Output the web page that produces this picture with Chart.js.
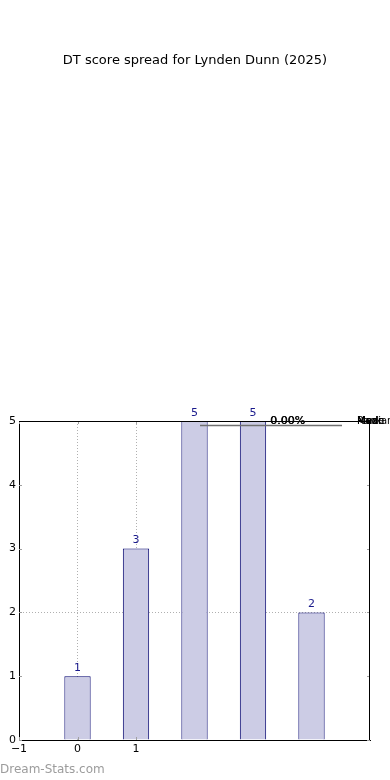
<!DOCTYPE html>
<html>
<head>
<meta charset="utf-8">
<title>DT score spread</title>
<script src="https://cdn.jsdelivr.net/npm/chart.js@4/dist/chart.umd.min.js"></script>
<style>
  html, body { margin: 0; padding: 0; background: #fff; }
  #wrap { position: relative; width: 390px; height: 780px; }
  #watermark {
    position: absolute; left: 0; top: 762px;
    font: 12px "DejaVu Sans", sans-serif; color: #9c9c9c;
  }
</style>
</head>
<body>
<div id="wrap">
  <canvas id="chart" width="390" height="780"></canvas>
  <div id="watermark">Dream-Stats.com</div>
</div>
<script>
// DATA
// -----------------------------------------------------------------------------
var scores = [0, 1, 2, 3, 4];
var counts = [1, 3, 5, 5, 2];
var xTickLabels = [-1, 0, 1];
var yTickLabels = [0, 1, 2, 3, 4, 5];
var titleText = 'DT score spread for Lynden Dunn (2025)';

// PLUGINS
// -----------------------------------------------------------------------------
var barLabels = {
    id: 'barLabels',
    afterDatasetsDraw: function(chart) {
        var ctx = chart.ctx;
        var meta = chart.getDatasetMeta(0);
        ctx.save();
        ctx.fillStyle = '#1a1a8c';
        ctx.font = '11px "DejaVu Sans"';
        ctx.textAlign = 'center';
        ctx.textBaseline = 'alphabetic';
        meta.data.forEach(function(bar, i) {
            ctx.fillText(String(counts[i]), bar.x, bar.y - 5.5);
        });
        ctx.restore();
    }
};

// title centred on the whole canvas, box, inner ticks and the broken legend
var frame = {
    id: 'frame',
    afterDraw: function(chart) {
        var ctx = chart.ctx;
        var a = chart.chartArea;
        var xs = chart.scales.x, ys = chart.scales.y;
        ctx.save();

        ctx.fillStyle = '#000';
        ctx.font = '13px "DejaVu Sans"';
        ctx.textAlign = 'center';
        ctx.textBaseline = 'middle';
        ctx.fillText(titleText, chart.width / 2, 61);

        // inner tick marks
        ctx.strokeStyle = '#a0a0a0';
        ctx.lineWidth = 1;
        yTickLabels.forEach(function(v) {
            var py = Math.round(ys.getPixelForValue(v)) + 0.5;
            ctx.beginPath();
            ctx.moveTo(a.left, py); ctx.lineTo(a.left + 3, py);
            ctx.moveTo(a.right, py); ctx.lineTo(a.right - 3, py);
            ctx.stroke();
        });
        xTickLabels.forEach(function(v) {
            var px = Math.round(xs.getPixelForValue(v)) + 0.5;
            ctx.beginPath();
            ctx.moveTo(px, a.bottom); ctx.lineTo(px, a.bottom - 3);
            ctx.moveTo(px, a.top); ctx.lineTo(px, a.top + 3);
            ctx.stroke();
        });

        // box
        ctx.strokeStyle = '#000';
        ctx.beginPath();
        ctx.moveTo(a.left, a.top + 0.5); ctx.lineTo(a.right, a.top + 0.5);
        ctx.moveTo(a.right - 0.5, a.top); ctx.lineTo(a.right - 0.5, a.bottom);
        ctx.stroke();

        // legend remains
        ctx.strokeStyle = '#707070';
        ctx.lineWidth = 1.5;
        ctx.beginPath();
        ctx.moveTo(200, a.top + 4.5); ctx.lineTo(342, a.top + 4.5);
        ctx.stroke();

        ctx.fillStyle = '#000';
        ctx.font = '11px "DejaVu Sans"';
        ctx.textAlign = 'left';
        ctx.fillText('0.00%', 270, a.top);
        ctx.fillText('0.00%', 270.5, a.top);
        ctx.font = '10px "DejaVu Sans"';
        ['Median', 'Mean', 'Rank', 'Mode', 'Max'].forEach(function(t) {
            ctx.fillText(t, 357, a.top);
        });
        ctx.restore();
    }
};

// CHART
// -----------------------------------------------------------------------------
Chart.defaults.font.family = '"DejaVu Sans"';
Chart.defaults.font.size = 11;
Chart.defaults.color = '#000';

var points = scores.map(function(s, i) { return { x: s, y: counts[i] }; });

function gridColor(values) {
    return function(c) {
        return (c.tick && values.indexOf(c.tick.value) >= 0) ? '#b0b0b0' : 'rgba(0,0,0,0)';
    };
}

new Chart(document.getElementById('chart'), {
    type: 'bar',
    data: {
        datasets: [{
            data: points,
            backgroundColor: 'rgb(204,204,229)',
            borderColor: '#00006e',
            borderWidth: 1,
            barPercentage: 0.45,
            categoryPercentage: 1
        }]
    },
    options: {
        responsive: false,
        animation: false,
        devicePixelRatio: 1,
        layout: { padding: { left: 0, right: 20, top: 421, bottom: 0 } },
        plugins: {
            legend: { display: false },
            tooltip: { enabled: false },
            title: { display: false }
        },
        scales: {
            x: {
                type: 'linear',
                min: -1,
                max: 5,
                offset: false,
                z: 1,
                afterBuildTicks: function(scale) {
                    scale.ticks = xTickLabels.map(function(v) { return { value: v }; });
                },
                afterFit: function(scale) { scale.height = 40; },
                ticks: {
                    padding: 3, maxRotation: 0, autoSkip: false,
                    callback: function(v) { return String(v).replace('-', '\u2212'); }
                },
                grid: {
                    offset: false,
                    drawTicks: false,
                    lineWidth: 1,
                    color: gridColor([0, 1])
                },
                border: { display: true, color: '#000', dash: [1, 2] }
            },
            y: {
                min: 0,
                max: 5,
                z: 1,
                afterBuildTicks: function(scale) {
                    scale.ticks = yTickLabels.map(function(v) { return { value: v }; });
                },
                afterFit: function(scale) { scale.width = 19; },
                ticks: { padding: 3 },
                grid: {
                    drawTicks: false,
                    lineWidth: 1,
                    color: gridColor([2])
                },
                border: { display: true, color: '#000', dash: [1, 2] }
            }
        }
    },
    plugins: [barLabels, frame]
});
</script>
</body>
</html>
